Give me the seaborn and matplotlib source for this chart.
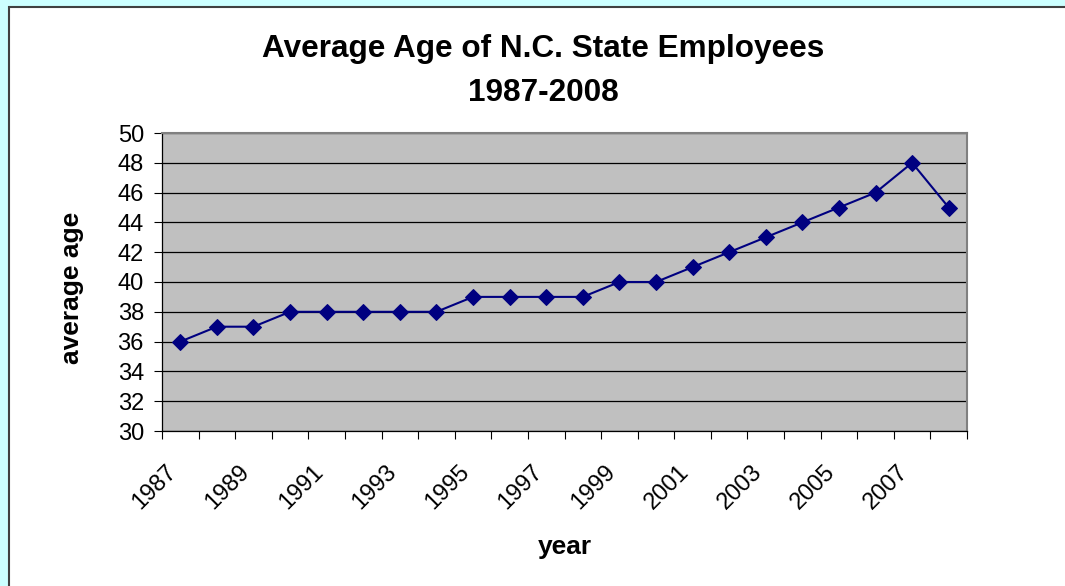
import matplotlib
matplotlib.use('Agg')
import matplotlib.pyplot as plt
import matplotlib.transforms as mtransforms
from matplotlib.patches import Rectangle
import pandas as pd
import seaborn as sns

# data
years = list(range(1987, 2009))
avg_age = [36, 37, 37, 38, 38, 38, 38, 38, 39, 39, 39, 39,
           40, 40, 41, 42, 43, 44, 45, 46, 48, 45]
year_labels = [str(y) for y in years[::2]]
age_ticks = list(range(30, 51, 2))

df = pd.DataFrame({'year': years, 'average age': avg_age})

sns.set_style('white')
plt.rcParams['font.family'] = ['Liberation Sans', 'DejaVu Sans']
plt.rcParams['text.color'] = 'black'
plt.rcParams['axes.labelcolor'] = 'black'
plt.rcParams['xtick.color'] = 'black'
plt.rcParams['ytick.color'] = 'black'

W, H = 1065, 586
fig = plt.figure(figsize=(W / 100, H / 100), dpi=100, facecolor='#CCFFFF')

# white chart area with dark frame
fig.patches.append(Rectangle((8.5 / W, -0.05), 1.2, 1 - 7 / H + 0.05,
                             transform=fig.transFigure, figure=fig,
                             facecolor='white', edgecolor='#404040',
                             linewidth=1.5, zorder=-10))

ax = fig.add_axes([162 / W, 1 - 431 / H, 805 / W, 298 / H])
ax.set_zorder(1)
ax.set_facecolor('#C0C0C0')

sns.lineplot(data=df, x='year', y='average age', ax=ax, color='#000080',
             marker='D', markersize=8, linewidth=1.5,
             markeredgecolor='#000080', zorder=3)

ax.set_xlim(years[0] - 0.5, years[-1] + 0.5)
ax.set_ylim(30, 50)
ax.set_yticks(age_ticks)
ax.set_yticklabels([str(a) for a in age_ticks])
ax.yaxis.grid(True, color='black', linewidth=0.9)
ax.xaxis.grid(False)
ax.set_axisbelow(True)

ax.set_xticks(years[::2])
ax.set_xticklabels(year_labels, rotation=45, ha='right', va='center',
                   rotation_mode='anchor')
ax.set_xticks([y - 0.5 for y in years] + [years[-1] + 0.5], minor=True)

ax.tick_params(axis='x', which='major', bottom=True, length=0, pad=27, labelsize=17)
ax.tick_params(axis='x', which='minor', bottom=True, length=6, width=0.8,
               direction='out', color='black')
ax.tick_params(axis='y', left=True, length=6, width=0.8, direction='out',
               color='black', pad=7, labelsize=17)

shift = mtransforms.ScaledTranslation(-0.07, 0, fig.dpi_scale_trans)
for lab in ax.get_xticklabels():
    lab.set_transform(lab.get_transform() + shift)

for side in ['left', 'bottom']:
    ax.spines[side].set_color('black')
    ax.spines[side].set_linewidth(0.9)
for side in ['top', 'right']:
    ax.spines[side].set_color('#808080')
    ax.spines[side].set_linewidth(1.5)

ax.set_xlabel('year', fontsize=19, fontweight='bold')
ax.set_ylabel('average age', fontsize=19, fontweight='bold')
ax.xaxis.set_label_coords(0.5, -0.35)
ax.yaxis.set_label_coords(-0.097, 0.48)

fig.text(543 / W, 1 - 71 / H, 'Average Age of N.C. State Employees\n1987-2008',
         ha='center', va='center', fontsize=22.7, fontweight='bold',
         linespacing=1.65)

fig.savefig('out.png', dpi=100, facecolor=fig.get_facecolor())
